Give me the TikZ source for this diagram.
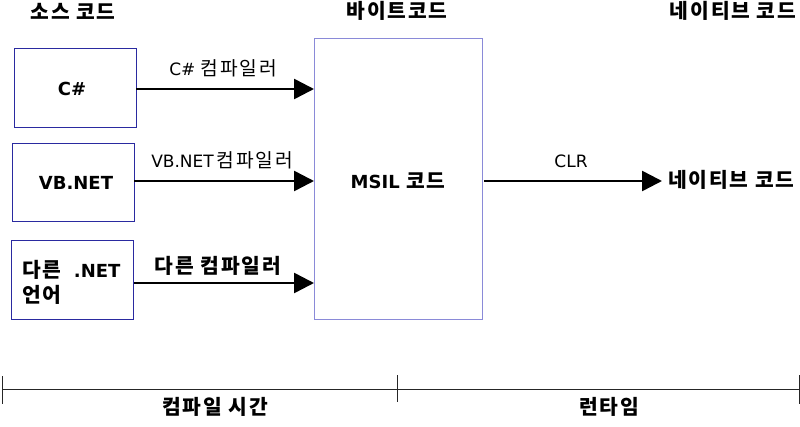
\documentclass[tikz,border=0pt]{standalone}
\usepackage{fontspec}
\setmainfont{DejaVu Sans}
\newfontfamily\ko{Noto Sans CJK KR}[Scale=1.13,LetterSpace=9]
\usetikzlibrary{arrows.meta}
\definecolor{boxblue}{HTML}{2A2AA0}
\definecolor{lightblue}{HTML}{8A8AD8}
\begin{document}
\begin{tikzpicture}[x=1pt,y=-1pt,
  box/.style={draw=boxblue,line width=1pt},
  bigbox/.style={draw=lightblue,line width=1pt},
  arr/.style={line width=2.6pt,-{Triangle[length=20pt,width=20pt]}},
  lbl/.style={font=\fontsize{17}{19}\selectfont,inner sep=0pt},
  blbl/.style={font=\fontsize{18}{20}\selectfont\bfseries,inner sep=0pt},
  tl/.style={line width=1pt,draw=black!85}]
\useasboundingbox (0,0) rectangle (800,427);
% headers
\node[blbl] (h1) at (73,11) {\ko 소스 코드};
\node[blbl] (h2) at (397,11) {\ko 바이트코드};
\node[blbl] (h3) at (733,11) {\ko 네이티브 코드};
% source boxes
\draw[box] (14,49) rectangle (136,128);
\node[blbl] (cs) at (72,89) {C\#};
\coordinate (csE) at (136,89);
\draw[box] (12,144) rectangle (134,222);
\node[blbl] (vb) at (76,183) {VB.NET};
\coordinate (vbE) at (134,181);
\draw[box] (11,241) rectangle (133,320);
\node[blbl,anchor=west] (ot1) at (22,270) {{\ko 다른}\ \ .NET};
\node[blbl,anchor=west] (ot2) at (22,295) {\ko 언어};
\coordinate (otE) at (134,283);
% MSIL box
\draw[bigbox] (314,39) rectangle (482,320);
\node[blbl] (msil) at (398,181) {MSIL {\ko 코드}};
\coordinate (m1) at (314,89);
\coordinate (m2) at (314,181);
\coordinate (m3) at (314,283);
\coordinate (mE) at (484,181);
% arrows
\draw[arr] (csE) -- (m1);
\draw[arr] (vbE) -- (m2);
\draw[arr] (otE) -- (m3);
\node[lbl] (l1) at (223,68) {C\# {\ko 컴파일러}};
\node[lbl] (l2) at (222,160) {VB.NET\kern3pt{\ko 컴파일러}};
\node[blbl] (l3) at (218,266) {\ko 다른 컴파일러};
% native
\node[blbl,anchor=west] (nat) at (668,180) {\ko 네이티브 코드};
\coordinate (natW) at (662,181);
\draw[arr] (mE) -- (natW);
\node[lbl] (clr) at (571,161) {CLR};
% timeline
\coordinate (t0) at (2,389);
\coordinate (t1) at (397,389);
\coordinate (t2) at (800,389);
\draw[tl] (t0) -- (t2);
\draw[tl] (2,376) -- (2,404);
\draw[tl] (397,375) -- (397,402);
\draw[tl] (799,375) -- (799,404);
\node[blbl] (ct) at (215,407) {\ko 컴파일 시간};
\node[blbl] (rt) at (609,407) {\ko 런타임};
\end{tikzpicture}
\end{document}
